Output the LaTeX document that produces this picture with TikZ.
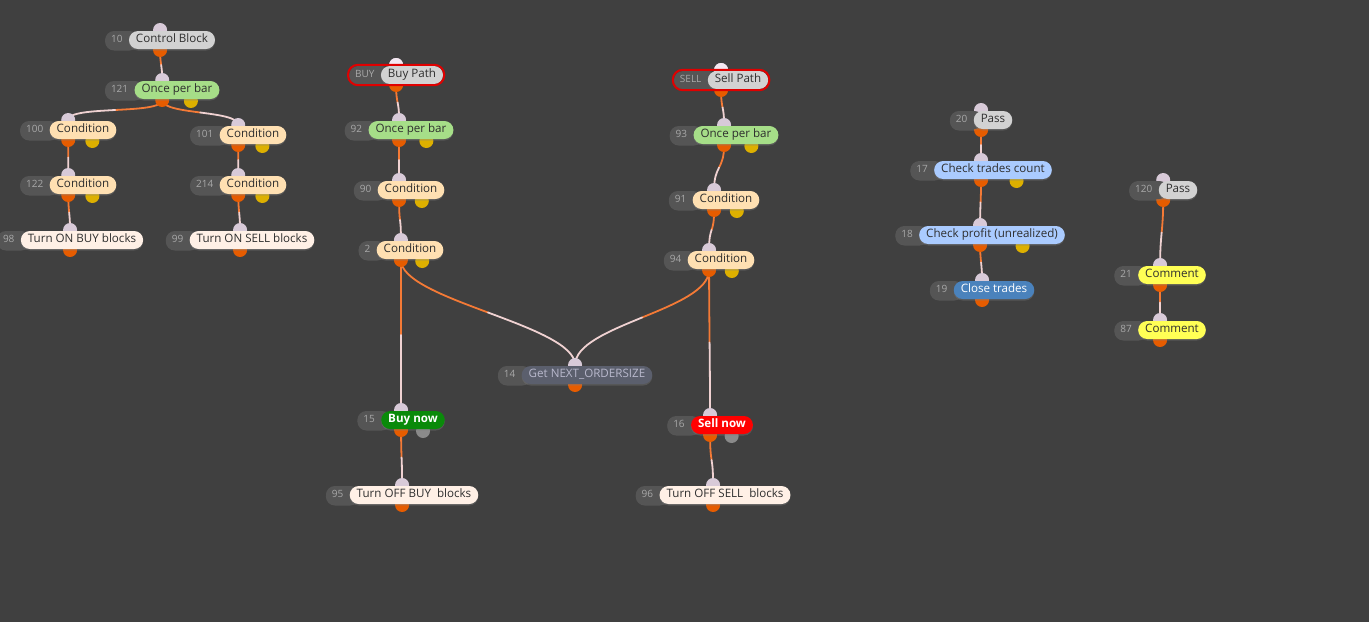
\documentclass[tikz,border=0pt]{standalone}
\usepackage{fontspec}
\setmainfont{Open Sans}
\usetikzlibrary{calc,fit,shadows}

\definecolor{canvas}{HTML}{404040}
\definecolor{tagbg}{HTML}{555555}
\definecolor{tagtxt}{HTML}{A8A8A8}
\definecolor{plain}{HTML}{D2D2D2}
\definecolor{oncebar}{HTML}{A6DE88}
\definecolor{cond}{HTML}{FFE0B2}
\definecolor{toggle}{HTML}{FFF0E6}
\definecolor{getvar}{HTML}{5B5F6D}
\definecolor{buygreen}{HTML}{0A8A0A}
\definecolor{sellred}{HTML}{FF0000}
\definecolor{check}{HTML}{AACBFF}
\definecolor{closeblue}{HTML}{4A82BC}
\definecolor{note}{HTML}{FFFF55}
\definecolor{pinin}{HTML}{D8CAD8}
\definecolor{pinstart}{HTML}{F4E8F2}
\definecolor{pinout}{HTML}{E65C00}
\definecolor{pinno}{HTML}{DDB000}
\definecolor{pinalt}{HTML}{8A8A8A}
\definecolor{wirehot}{HTML}{F47A36}
\definecolor{wirecold}{HTML}{F0D2D2}
\definecolor{pathring}{HTML}{E00000}

\pgfdeclarelayer{back}
\pgfdeclarelayer{wires}
\pgfdeclarelayer{pins}
\pgfdeclarelayer{tags}
\pgfsetlayers{back,wires,pins,tags,main}

\tikzset{
  block/.style={rounded corners=9pt, minimum height=18pt, inner xsep=7pt,
    inner ysep=0pt, text height=8.2pt, text depth=2.6pt, text=black!82,
    font=\fontsize{11.6}{13}\selectfont,
    drop shadow={opacity=0.35, shadow xshift=0pt, shadow yshift=-1.5pt}},
  plainblk/.style={block, fill=plain},
  onceblk/.style={block, fill=oncebar},
  condblk/.style={block, fill=cond},
  toggleblk/.style={block, fill=toggle},
  getblk/.style={block, fill=getvar, text=blue!10!white!80!black},
  buyblk/.style={block, fill=buygreen, text=white, font=\fontsize{11.6}{13}\selectfont\bfseries},
  sellblk/.style={block, fill=sellred, text=white, font=\fontsize{11.6}{13}\selectfont\bfseries},
  checkblk/.style={block, fill=check},
  closeblk/.style={block, fill=closeblue, text=white},
  noteblk/.style={block, fill=note},
  tag/.style={rounded corners=9pt, minimum height=18pt, inner xsep=6pt,
    inner ysep=0pt, text height=7pt, text depth=2pt, fill=tagbg, text=tagtxt,
    font=\fontsize{10}{11}\selectfont,
    drop shadow={opacity=0.35, shadow xshift=0pt, shadow yshift=-1.5pt}},
  pin/.style={circle, inner sep=0pt, minimum size=14pt},
  pinin/.style={pin, fill=pinin},
  pinout/.style={pin, fill=pinout},
  pinno/.style={pin, fill=pinno},
  pinalt/.style={pin, fill=pinalt},
  ring/.style={draw=pathring, line width=2pt, rounded corners=10pt, inner sep=1pt},
  wirehot/.style={draw=wirehot, line width=1.8pt, line cap=round},
  wirecold/.style={draw=wirecold, line width=1.8pt, line cap=round}
}

% block: style, name, x, y, id, label
\newcommand{\blk}[6][plainblk]{%
  \node[#1] (#2) at (#3,#4) {#6};
  \begin{pgfonlayer}{tags}
    \node[tag, anchor=east] (#2-id) at ([xshift=10pt]#2.west) {#5\hspace*{10pt}};
  \end{pgfonlayer}
  \coordinate (#2-c) at ($(#2-id.west)!0.5!(#2.east)$);
  \begin{pgfonlayer}{pins}
    \node[pinin] (#2-in) at ([yshift=10pt]#2-c) {};
    \node[pinout] (#2-out) at ([yshift=-10pt]#2-c) {};
  \end{pgfonlayer}}

% second output pins
\newcommand{\nopin}[2][pinno]{%
  \begin{pgfonlayer}{pins}
    \node[#1] (#2-no) at ($(#2-c)!0.5!(#2.east)+(0,11)$) {};
  \end{pgfonlayer}}

% wire from out pin to in pin, orange half then pale half
\newcommand{\wire}[3][20]{%
  \draw[wirehot] (#2.center) .. controls ($(#2.center)+(0,#1/2)$)
    and ($(#2.center)!0.25!(#3.center)+(0,#1/4)$) .. ($(#2.center)!0.5!(#3.center)$);
  \draw[wirecold] ($(#2.center)!0.5!(#3.center)$) .. controls
    ($(#2.center)!0.75!(#3.center)-(0,#1/4)$) and ($(#3.center)-(0,#1/2)$) .. (#3.center);}

\begin{document}
\begin{tikzpicture}[x=1pt, y=-1pt]
\begin{pgfonlayer}{back}
  \fill[canvas] (0,0) rectangle (1369,622);
\end{pgfonlayer}
\useasboundingbox (0,0) rectangle (1369,622);

% control tree
\blk[plainblk]{n10}{172}{40}{10}{Control Block}
\blk[onceblk]{n121}{177}{90}{121}{Once per bar}
\blk[condblk]{n100}{83}{130}{100}{Condition}
\blk[condblk]{n101}{253}{135}{101}{Condition}
\blk[condblk]{n122}{83}{185}{122}{Condition}
\blk[condblk]{n214}{253}{185}{214}{Condition}
\blk[toggleblk]{n98}{82}{240}{98}{Turn ON BUY blocks}
\blk[toggleblk]{n99}{252}{240}{99}{Turn ON SELL blocks}
\nopin{n121}
\nopin{n100}
\nopin{n101}
\nopin{n122}
\nopin{n214}

% buy path
\blk[plainblk]{buy}{412}{75}{BUY}{Buy Path}
\node[ring, fit=(buy-id)(buy)] (buy-ring) {};
\begin{pgfonlayer}{pins}
  \fill[pinstart] (buy-in) circle (7pt);
\end{pgfonlayer}
\blk[onceblk]{n92}{411}{130}{92}{Once per bar}
\blk[condblk]{n90}{411}{190}{90}{Condition}
\blk[condblk]{n2}{410}{250}{2}{Condition}
\blk[buyblk]{n15}{413}{420}{15}{Buy now}
\blk[toggleblk]{n95}{414}{495}{95}{Turn OFF BUY~~blocks}
\nopin{n92}
\nopin{n90}
\nopin{n2}
\nopin[pinalt]{n15}

% sell path
\blk[plainblk]{sell}{738}{80}{SELL}{Sell Path}
\node[ring, fit=(sell-id)(sell)] (sell-ring) {};
\begin{pgfonlayer}{pins}
  \fill[pinstart] (sell-in) circle (7pt);
\end{pgfonlayer}
\blk[onceblk]{n93}{736}{135}{93}{Once per bar}
\blk[condblk]{n91}{726}{200}{91}{Condition}
\blk[condblk]{n94}{721}{260}{94}{Condition}
\blk[sellblk]{n16}{722}{425}{16}{Sell now}
\blk[toggleblk]{n96}{725}{495}{96}{Turn OFF SELL~~blocks}
\nopin{n93}
\nopin{n91}
\nopin{n94}
\nopin[pinalt]{n16}

\blk[getblk]{n14}{587}{375}{14}{Get NEXT\_ORDERSIZE}

% close path
\blk[plainblk]{n20}{993}{120}{20}{Pass}
\blk[checkblk]{n17}{993}{170}{17}{Check trades count}
\blk[checkblk]{n18}{992}{235}{18}{Check profit (unrealized)}
\blk[closeblk]{n19}{994}{290}{19}{Close trades}
\nopin{n17}
\nopin{n18}

% comments
\blk[plainblk]{n120}{1178}{190}{120}{Pass}
\blk[noteblk]{n21}{1172}{275}{21}{Comment}
\blk[noteblk]{n87}{1172}{330}{87}{Comment}

\begin{pgfonlayer}{wires}
\wire[15]{n10-out}{n121-in}
\wire[15]{n121-out}{n100-in}
\wire[15]{n121-out}{n101-in}
\wire[15]{n100-out}{n122-in}
\wire[15]{n101-out}{n214-in}
\wire[15]{n122-out}{n98-in}
\wire[15]{n214-out}{n99-in}
\wire{buy-out}{n92-in}
\wire[25]{n92-out}{n90-in}
\wire[25]{n90-out}{n2-in}
\wire[40]{n2-out}{n15-in}
\wire[40]{n2-out}{n14-in}
\wire[30]{n15-out}{n95-in}
\wire{sell-out}{n93-in}
\wire[25]{n93-out}{n91-in}
\wire[25]{n91-out}{n94-in}
\wire[40]{n94-out}{n14-in}
\wire[40]{n94-out}{n16-in}
\wire[30]{n16-out}{n96-in}
\wire[15]{n20-out}{n17-in}
\wire{n17-out}{n18-in}
\wire[15]{n18-out}{n19-in}
\wire[30]{n120-out}{n21-in}
\wire[15]{n21-out}{n87-in}
\end{pgfonlayer}
\end{tikzpicture}
\end{document}
